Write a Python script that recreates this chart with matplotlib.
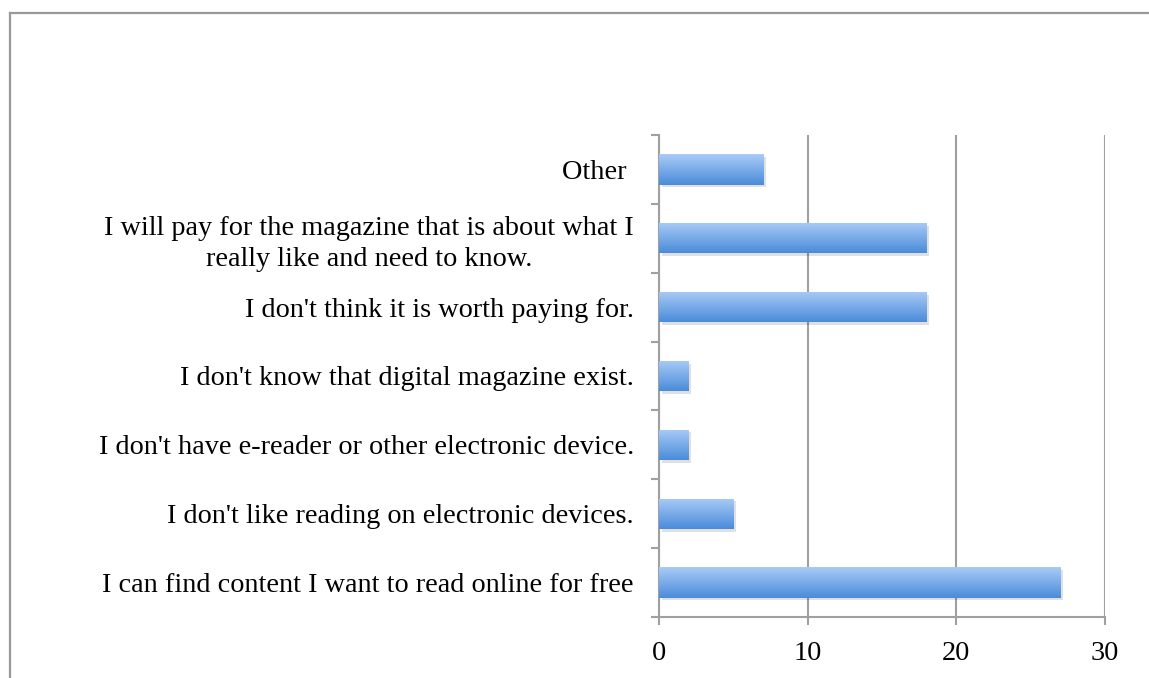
import matplotlib
matplotlib.use("Agg")
import matplotlib.pyplot as plt
import numpy as np
from matplotlib.lines import Line2D
from matplotlib import patheffects as pe

categories = [
    "I can find content I want to read online for free",
    "I don't like reading on electronic devices.",
    "I don't have e-reader or other electronic device.",
    "I don't know that digital magazine exist.",
    "I don't think it is worth paying for.",
    "I will pay for the magazine that is about what I\nreally like and need to know.",
    "Other ",
]
counts = [27, 5, 2, 2, 18, 18, 7]
x_ticks = [0, 10, 20, 30]

plt.rcParams["font.family"] = ["Liberation Serif", "DejaVu Serif"]

fig = plt.figure(figsize=(11.49, 6.78), dpi=100)
ax = fig.add_axes([0.5735, 0.09, 0.3882, 0.7109])

y = np.arange(len(categories))
bars = ax.barh(y, counts, height=0.44, color="#7aaeea", zorder=3,
               path_effects=[pe.SimplePatchShadow(offset=(2, -2), shadow_rgbFace="#000000", alpha=0.12),
                             pe.Normal()])

# vertical gradient on each bar, light at the top
grad = np.linspace(0, 1, 64).reshape(-1, 1)
cmap = matplotlib.colors.LinearSegmentedColormap.from_list("bar", ["#a8cbf7", "#4b8cd9"])
for b in bars:
    x0, y0 = b.get_x(), b.get_y()
    w, h = b.get_width(), b.get_height()
    im = ax.imshow(grad, cmap=cmap, aspect="auto", extent=[x0, x0 + w, y0, y0 + h],
                   origin="upper", zorder=4)
    im.set_clip_path(b)

ax.set_xlim(0, 30)
ax.set_ylim(-0.5, len(categories) - 0.5)
ax.set_xticks(x_ticks)
ax.set_xticklabels([str(t) for t in x_ticks])
ax.set_yticks(y)
ax.set_yticklabels(categories, multialignment="center", linespacing=1.3)
ax.set_yticks(np.arange(-0.5, len(categories)), minor=True)

ax.grid(axis="x", color="#a0a0a0", linewidth=1.5, zorder=1)
for s in ["top", "right"]:
    ax.spines[s].set_visible(False)
for s in ["left", "bottom"]:
    ax.spines[s].set_color("#a0a0a0")
    ax.spines[s].set_linewidth(1.5)

ax.tick_params(axis="y", which="major", length=0, pad=18, labelsize=20.3)
ax.tick_params(axis="y", which="minor", length=6, width=1.5, color="#a0a0a0")
ax.tick_params(axis="x", length=6, width=1.5, color="#a0a0a0", labelsize=20.3, pad=11)

# outer frame (top and left edges)
fig.add_artist(Line2D([10 / 1149, 1.0], [1 - 13 / 678, 1 - 13 / 678], transform=fig.transFigure,
                      color="#999999", linewidth=1.6))
fig.add_artist(Line2D([10 / 1149, 10 / 1149], [0.0, 1 - 13 / 678], transform=fig.transFigure,
                      color="#999999", linewidth=1.6))

fig.savefig("out.png", dpi=100)
